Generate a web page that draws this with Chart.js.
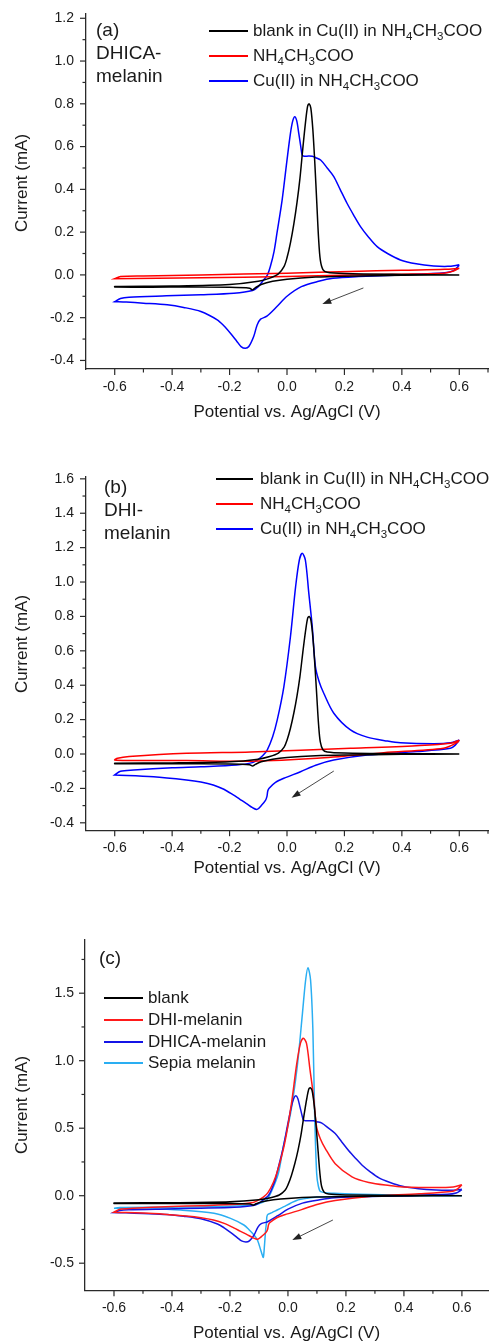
<!DOCTYPE html>
<html>
<head>
<meta charset="utf-8">
<script src="https://cdn.jsdelivr.net/npm/chart.js"></script>
<style>
  body { margin: 0; background: #fff; }
  #lienzo { position: relative; width: 496px; height: 1344px; overflow: hidden; font-family: 'Liberation Sans', Arial, sans-serif; color: #1a1a1a; }
  .panel { position: absolute; left: 0; width: 496px; }
  .rotulo { position: absolute; font-size: 19px; line-height: 23px; white-space: nowrap; }
  .ley-linea { position: absolute; }
  .ley-texto { position: absolute; font-size: 17px; line-height: 20px; white-space: nowrap; }
  .ley-texto sub { font-size: 11.5px; vertical-align: -4px; line-height: 0; }
  .titulo-y { position: absolute; font-size: 17px; white-space: nowrap; transform: translate(-50%, -50%) rotate(-90deg); }
</style>
</head>
<body>
<div id="lienzo">
  <div class="panel" style="top:0;height:430px"><canvas id="canvaA"></canvas></div>
  <div class="panel" style="top:440px;height:440px"><canvas id="canvaB"></canvas></div>
  <div class="panel" style="top:880px;height:464px"><canvas id="canvaC"></canvas></div>
</div>
<script>
// potencial (V) y corriente (mA); cada curva es un ciclo cerrado
// que empieza en 0.6 V, barre hacia -0.6 V (rama catodica) y vuelve (rama anodica)
const blancoX = [0.6, 0.4, 0.2, 0.1, 0.0, -0.05, -0.09, -0.11, -0.12, -0.13, -0.2, -0.4, -0.6,
  -0.6, -0.4, -0.2, -0.1, -0.06, -0.03, -0.01, 0.0, 0.012, 0.024, 0.035, 0.045, 0.055, 0.065, 0.072,
  0.077, 0.083, 0.09, 0.097, 0.104, 0.11, 0.116, 0.125, 0.14, 0.2, 0.4, 0.6];
const blancoY = [0.0, -0.002, -0.006, -0.01, -0.02, -0.03, -0.045, -0.06, -0.07, -0.062, -0.058, -0.057, -0.057,
  -0.054, -0.052, -0.045, -0.03, -0.015, 0.005, 0.04, 0.08, 0.15, 0.24, 0.34, 0.45, 0.59, 0.72, 0.79,
  0.80, 0.78, 0.68, 0.52, 0.33, 0.17, 0.07, 0.025, 0.012, 0.006, 0.002, 0.0];

const dhicaX = [0.6, 0.58, 0.55, 0.4, 0.25, 0.16, 0.11, 0.05, 0.0, -0.035,
  -0.07, -0.092, -0.104, -0.116, -0.133, -0.145, -0.16, -0.175, -0.197, -0.22,
  -0.243, -0.3, -0.36, -0.417, -0.5, -0.56, -0.6,
  -0.6, -0.58, -0.55, -0.42, -0.3, -0.185, -0.12, -0.1, -0.081, -0.068,
  -0.058, -0.045, -0.035, -0.017, 0.0, 0.012, 0.02, 0.027, 0.034, 0.041,
  0.048, 0.053, 0.06, 0.075, 0.088, 0.1, 0.117, 0.14, 0.163, 0.185,
  0.209, 0.232, 0.256, 0.285, 0.314, 0.35, 0.395, 0.45, 0.511, 0.56, 0.6];
const dhicaY = [0.045, 0.02, 0.01, 0.0, -0.008, -0.016, -0.03, -0.055, -0.1, -0.148,
  -0.193, -0.207, -0.234, -0.288, -0.335, -0.343, -0.335, -0.31, -0.273, -0.238,
  -0.21, -0.171, -0.152, -0.14, -0.132, -0.127, -0.125,
  -0.125, -0.11, -0.104, -0.098, -0.093, -0.086, -0.073, -0.055, -0.023, 0.0,
  0.039, 0.11, 0.195, 0.35, 0.537, 0.662, 0.72, 0.74, 0.72, 0.662,
  0.6, 0.561, 0.555, 0.556, 0.555, 0.548, 0.537, 0.5, 0.46, 0.4,
  0.335, 0.28, 0.226, 0.175, 0.132, 0.1, 0.07, 0.052, 0.042, 0.04, 0.047];

const dhiX = [0.6, 0.585, 0.569, 0.453, 0.279, 0.163, 0.1, 0.047, -0.011, -0.04,
  -0.063, -0.067, -0.07, -0.075, -0.088, -0.104, -0.12, -0.141, -0.165, -0.187,
  -0.22, -0.257, -0.3, -0.35, -0.465, -0.6,
  -0.6, -0.58, -0.534, -0.4, -0.3, -0.176, -0.12, -0.104, -0.085, -0.069,
  -0.05, -0.034, -0.011, 0.012, 0.03, 0.043, 0.053, 0.064, 0.076, 0.088,
  0.099, 0.112, 0.128, 0.163, 0.221, 0.279, 0.35, 0.395, 0.511, 0.57, 0.6];
const dhiY = [0.081, 0.05, 0.033, 0.014, -0.006, -0.035, -0.065, -0.103, -0.141, -0.165,
  -0.2, -0.215, -0.248, -0.27, -0.297, -0.322, -0.312, -0.288, -0.262, -0.238,
  -0.205, -0.18, -0.163, -0.151, -0.132, -0.122,
  -0.122, -0.1, -0.093, -0.08, -0.074, -0.064, -0.05, -0.035, -0.01, 0.023,
  0.1, 0.198, 0.391, 0.682, 0.973, 1.128, 1.167, 1.128, 0.934, 0.74,
  0.508, 0.42, 0.353, 0.237, 0.14, 0.098, 0.075, 0.065, 0.06, 0.065, 0.081];

const sepiaX = [0.6, 0.4, 0.2, 0.1, 0.067, 0.03, 0.009, -0.014, -0.037, -0.055,
  -0.071, -0.074, -0.077, -0.081, -0.085, -0.09, -0.094, -0.105, -0.117, -0.135,
  -0.152, -0.198, -0.255, -0.37, -0.48, -0.6,
  -0.6, -0.58, -0.4, -0.2, -0.12, -0.09, -0.073, -0.055, -0.033, -0.016,
  0.009, 0.032, 0.05, 0.061, 0.069, 0.078, 0.086, 0.092, 0.099, 0.105,
  0.113, 0.159, 0.25, 0.4, 0.6];
const sepiaY = [0.0, -0.002, -0.006, -0.01, -0.019, -0.035, -0.056, -0.081, -0.106, -0.125,
  -0.143, -0.2, -0.254, -0.37, -0.457, -0.43, -0.402, -0.33, -0.291, -0.25,
  -0.217, -0.168, -0.13, -0.106, -0.096, -0.093,
  -0.093, -0.088, -0.085, -0.078, -0.068, -0.05, -0.032, 0.04, 0.166, 0.363,
  0.61, 0.956, 1.351, 1.598, 1.689, 1.598, 1.227, 0.61, 0.166, 0.07,
  0.03, 0.018, 0.01, 0.004, 0.0];

// NH4CH3COO solo, panel (a) y panel (b)
const acetatoAX = [0.6, 0.58, 0.546, 0.4, 0.221, 0.0, -0.3, -0.6, -0.6, -0.58, -0.5, -0.3, 0.0, 0.221, 0.4, 0.55, 0.6];
const acetatoAY = [0.031, 0.018, 0.008, 0.003, 0.0, -0.008, -0.013, -0.018, -0.018, -0.008, -0.005, 0.0, 0.008, 0.016, 0.022, 0.026, 0.031];
const acetatoBX = [0.6, 0.592, 0.545, 0.337, 0.105, -0.127, -0.35, -0.55, -0.6, -0.59, -0.55, -0.35, -0.127, 0.221, 0.45, 0.569, 0.6];
const acetatoBY = [0.081, 0.066, 0.033, 0.008, -0.025, -0.042, -0.038, -0.038, -0.035, -0.025, -0.015, 0.004, 0.012, 0.033, 0.048, 0.062, 0.081];

// flechas de sentido de barrido: [inicio, fin] en (V, mA)
const flechaA = [[0.266, -0.061], [0.123, -0.136]];
const flechaB = [[0.163, -0.099], [0.016, -0.254]];
const flechaC = [[0.155, -0.18], [0.015, -0.328]];

const leyendaA = ["blank in Cu(II) in NH<sub>4</sub>CH<sub>3</sub>COO", "NH<sub>4</sub>CH<sub>3</sub>COO", "Cu(II) in NH<sub>4</sub>CH<sub>3</sub>COO"];
const leyendaC = ["blank", "DHI-melanin", "DHICA-melanin", "Sepia melanin"];

Chart.defaults.font.family = "'Liberation Sans', Arial, sans-serif";
Chart.defaults.color = '#1a1a1a';

function curva(xs, ys, color, etiqueta) {
    return {
        label: etiqueta,
        data: xs.map((x, i) => ({ x: x, y: ys[i] })),
        borderColor: color,
        borderWidth: 1.5,
        showLine: true,
        pointRadius: 0,
        tension: 0.3,
        fill: false
    };
}

// marcas de los ejes (mayores con etiqueta, menores sin ella) y flecha
const marcasEjes = {
    id: 'marcasEjes',
    afterDraw(chart, args, opciones) {
        const ctx = chart.ctx;
        const { left, bottom } = chart.chartArea;
        const sx = chart.scales.x, sy = chart.scales.y;
        ctx.save();
        ctx.strokeStyle = '#2a2a2a';
        ctx.lineWidth = 1.2;
        sx.ticks.forEach(t => {
            const px = sx.getPixelForValue(t.value);
            if (px - left < 2) return;
            const largo = t.label ? 6 : 3.5;
            ctx.beginPath(); ctx.moveTo(px, bottom); ctx.lineTo(px, bottom + largo); ctx.stroke();
        });
        sy.ticks.forEach(t => {
            const py = sy.getPixelForValue(t.value);
            if (bottom - py < 2) return;
            const largo = t.label ? 6 : 3.5;
            ctx.beginPath(); ctx.moveTo(left, py); ctx.lineTo(left - largo, py); ctx.stroke();
        });

        const f = opciones.flecha;
        const x1 = sx.getPixelForValue(f[0][0]), y1 = sy.getPixelForValue(f[0][1]);
        const x2 = sx.getPixelForValue(f[1][0]), y2 = sy.getPixelForValue(f[1][1]);
        const ang = Math.atan2(y2 - y1, x2 - x1);
        ctx.strokeStyle = '#333';
        ctx.lineWidth = 0.9;
        ctx.beginPath(); ctx.moveTo(x1, y1); ctx.lineTo(x2 - 6 * Math.cos(ang), y2 - 6 * Math.sin(ang)); ctx.stroke();
        ctx.fillStyle = '#222';
        ctx.beginPath();
        ctx.moveTo(x2, y2);
        ctx.lineTo(x2 - 9 * Math.cos(ang) + 3.2 * Math.sin(ang), y2 - 9 * Math.sin(ang) - 3.2 * Math.cos(ang));
        ctx.lineTo(x2 - 9 * Math.cos(ang) - 3.2 * Math.sin(ang), y2 - 9 * Math.sin(ang) + 3.2 * Math.cos(ang));
        ctx.closePath(); ctx.fill();
        ctx.restore();
    }
};

function crearPanel(idCanvas, p) {
    const etiquetaMayor = (v, paso, cada) => {
        const n = Math.round(v / paso);
        return n % cada === 0 ? v.toFixed(1) : '';
    };
    return new Chart(document.getElementById(idCanvas), {
        type: 'scatter',
        data: { datasets: p.series },
        plugins: [marcasEjes],
        options: {
            responsive: true,
            maintainAspectRatio: false,
            animation: false,
            events: [],
            layout: { padding: { top: p.arriba, right: 8, bottom: 0, left: 0 } },
            plugins: {
                legend: { display: false },
                tooltip: { enabled: false },
                marcasEjes: { flecha: p.flecha }
            },
            scales: {
                x: {
                    type: 'linear',
                    min: -0.7,
                    max: p.xMax,
                    grid: { display: false, drawTicks: false },
                    border: { display: true, color: '#2a2a2a', width: 1.3 },
                    ticks: {
                        stepSize: 0.1,
                        autoSkip: false,
                        maxRotation: 0,
                        includeBounds: false,
                        padding: p.padTicksX,
                        font: { size: 14 },
                        callback: v => etiquetaMayor(v, 0.1, 2)
                    },
                    title: {
                        display: true,
                        text: 'Potential vs. Ag/AgCl (V)',
                        font: { size: 17 },
                        padding: { top: 0, bottom: p.padTitulo }
                    },
                    afterFit(escala) {
                        escala.height = p.altoEjeX;
                        escala.paddingLeft = 0;
                        escala.paddingRight = 0;
                    }
                },
                y: {
                    type: 'linear',
                    min: p.yMin,
                    max: p.yMax,
                    grid: { display: false, drawTicks: false },
                    border: { display: true, color: '#2a2a2a', width: 1.3 },
                    ticks: {
                        stepSize: p.pasoY,
                        autoSkip: false,
                        includeBounds: false,
                        padding: p.padTicksY,
                        font: { size: 14 },
                        callback: v => etiquetaMayor(v, p.pasoY, 2)
                    },
                    afterFit(escala) {
                        escala.width = p.anchoEjeY;
                        escala.paddingTop = 0;
                        escala.paddingBottom = 0;
                    }
                }
            }
        }
    });
}

const graficoA = crearPanel('canvaA', {
    series: [
        curva(blancoX, blancoY, '#000000', 'blank in Cu(II) in NH4CH3COO'),
        curva(acetatoAX, acetatoAY, '#ff0000', 'NH4CH3COO'),
        curva(dhicaX, dhicaY, '#0000ff', 'Cu(II) in NH4CH3COO')
    ],
    arriba: 14, altoEjeX: 61, anchoEjeY: 86, xMax: 0.7,
    yMin: -0.44, yMax: 1.22, pasoY: 0.1,
    padTicksX: 10, padTicksY: 12, padTitulo: 7, flecha: flechaA
});

const graficoB = crearPanel('canvaB', {
    series: [
        curva(blancoX, blancoY, '#000000', 'blank in Cu(II) in NH4CH3COO'),
        curva(acetatoBX, acetatoBY, '#ff0000', 'NH4CH3COO'),
        curva(dhiX, dhiY, '#0000ff', 'Cu(II) in NH4CH3COO')
    ],
    arriba: 36.6, altoEjeX: 49.8, anchoEjeY: 86, xMax: 0.7,
    yMin: -0.443, yMax: 1.613, pasoY: 0.1,
    padTicksX: 9.5, padTicksY: 12, padTitulo: 1, flecha: flechaB
});

const graficoC = crearPanel('canvaC', {
    series: [
        curva(blancoX, blancoY, '#000000', leyendaC[0]),
        curva(dhiX, dhiY, '#ff1a1a', leyendaC[1]),
        curva(dhicaX, dhicaY, '#1414e6', leyendaC[2]),
        curva(sepiaX, sepiaY, '#2aaef2', leyendaC[3])
    ],
    arriba: 59.2, altoEjeX: 53.8, anchoEjeY: 85, xMax: 0.69,
    yMin: -0.7, yMax: 1.9, pasoY: 0.25,
    padTicksX: 9.5, padTicksY: 11, padTitulo: 0.8, flecha: flechaC
});

// textos superpuestos: rotulos de panel, leyendas (con subindices) y titulo del eje y
const lienzo = document.getElementById('lienzo');
function poner(html) { lienzo.insertAdjacentHTML('beforeend', html); }

function leyenda(textos, colores, xLinea, largo, xTexto, yPrimera, salto, grosor) {
    textos.forEach((t, i) => {
        const yc = Math.round(yPrimera + i * salto);
        poner(`<div class="ley-linea" style="left:${xLinea}px;top:${yc - 1}px;width:${largo}px;height:${grosor}px;background:${colores[i]}"></div>`);
        poner(`<div class="ley-texto" style="left:${xTexto}px;top:${yc - 10}px">${t}</div>`);
    });
}

poner(`<div class="rotulo" style="left:96px;top:18px">(a)<br>DHICA-<br>melanin</div>`);
poner(`<div class="rotulo" style="left:104px;top:475px">(b)<br>DHI-<br>melanin</div>`);
poner(`<div class="rotulo" style="left:99px;top:946px">(c)</div>`);

leyenda(leyendaA, ['#000', '#ff0000', '#0000ff'], 209, 39, 253, 30.7, 25, 1.5);
leyenda(leyendaA, ['#000', '#ff0000', '#0000ff'], 216, 37, 260, 479, 25, 2);
leyenda(leyendaC, ['#000', '#ff1a1a', '#1414e6', '#2aaef2'], 104, 39, 148, 998.3, 21.7, 2);

[183, 644, 1105].forEach(yc => {
    poner(`<div class="titulo-y" style="left:22px;top:${yc}px">Current (mA)</div>`);
});
</script>
</body>
</html>
